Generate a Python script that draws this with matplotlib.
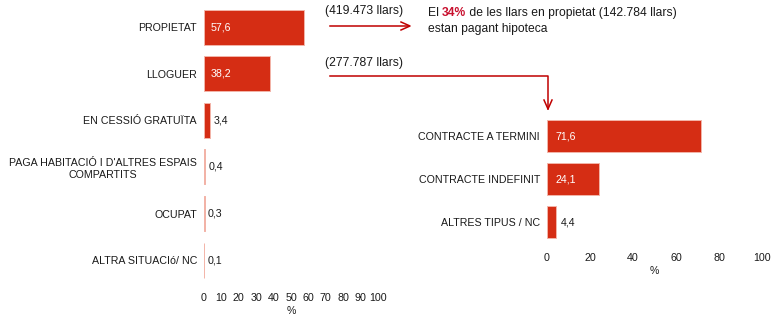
import matplotlib
matplotlib.use("Agg")
import matplotlib.pyplot as plt
from matplotlib.lines import Line2D

plt.rcParams['font.family'] = ['Liberation Sans', 'DejaVu Sans']

# Regim de tinença de l'habitatge
tenure_labels = ["PROPIETAT", "LLOGUER", "EN CESSIÓ GRATUÏTA",
                 "PAGA HABITACIÓ I D'ALTRES ESPAIS\nCOMPARTITS",
                 "OCUPAT", "ALTRA SITUACIó/ NC"]
tenure_values = [57.6, 38.2, 3.4, 0.4, 0.3, 0.1]
tenure_ticks = [0, 10, 20, 30, 40, 50, 60, 70, 80, 90, 100]

# Tipus de contracte de lloguer
contract_labels = ["CONTRACTE A TERMINI", "CONTRACTE INDEFINIT", "ALTRES TIPUS / NC"]
contract_values = [71.6, 24.1, 4.4]
contract_ticks = [0, 20, 40, 60, 80, 100]

owner_households = "(419.473 llars)"
renter_households = "(277.787 llars)"
mortgage_share = "34%"

BAR = '#d52d14'
EDGE = '#f3b4a8'
ARROW = '#c00000'
TXT = '#1a1a1a'
FS = 7.7

W, H = 783, 325
fig = plt.figure(figsize=(W / 100, H / 100), dpi=100)


def fx(px):
    return px / W


def fy(py):
    return 1 - py / H


def bar_panel(rect, labels, values, ticks, height, inside_min):
    ax = fig.add_axes(rect)
    pos = list(range(len(values)))
    ax.barh(pos, values, height=height, color=BAR, edgecolor=EDGE, linewidth=0.7)
    ax.set_ylim(len(values) - 0.5, -0.5)
    ax.set_xlim(0, 100)
    ax.set_yticks(pos)
    ax.set_yticklabels(labels, fontsize=FS, color=TXT)
    for t in ax.get_yticklabels():
        t.set_multialignment('center')
    ax.set_xticks(ticks)
    ax.set_xticklabels([str(t) for t in ticks], fontsize=FS, color=TXT)
    ax.tick_params(length=0, pad=5)
    ax.tick_params(axis='x', pad=7)
    ax.set_xlabel('%', fontsize=FS, color=TXT, labelpad=2)
    for s in ax.spines.values():
        s.set_visible(False)
    for p, v in zip(pos, values):
        txt = f"{v:.1f}".replace('.', ',')
        if v >= inside_min:
            ax.text(4, p, txt, color='white', fontsize=FS, va='center', ha='left')
        else:
            ax.text(v + 2, p, txt, color=TXT, fontsize=FS, va='center', ha='left')
    return ax


ax1 = bar_panel([fx(204), fy(283.5), fx(378) - fx(204), (283.5 - 3.7) / H],
                tenure_labels, tenure_values, tenure_ticks, 0.75, 10)
ax2 = bar_panel([fx(547), fy(243.5), fx(762) - fx(547), 129 / H],
                contract_labels, contract_values, contract_ticks, 0.74, 10)

# households in ownership -> mortgage note
fig.text(fx(325), fy(11), owner_households, fontsize=8.7, color=TXT, va='center')
fig.add_artist(Line2D([fx(330), fx(408)], [fy(26), fy(26)], color=ARROW, lw=1.1,
                      transform=fig.transFigure))
fig.add_artist(Line2D([fx(401), fx(410), fx(401)], [fy(22), fy(26), fy(30)],
                      color=ARROW, lw=1.1, transform=fig.transFigure))

fig.canvas.draw()
r = fig.canvas.get_renderer()
t1 = fig.text(fx(428), fy(13), "El ", fontsize=8.7, color=TXT, va='center')
x = t1.get_window_extent(r).x1
t2 = fig.text(x / W, fy(13), mortgage_share, fontsize=8.7, color='#c8102e',
              fontweight='bold', va='center')
x = t2.get_window_extent(r).x1
fig.text(x / W, fy(13), " de les llars en propietat (142.784 llars)", fontsize=8.7,
         color=TXT, va='center')
fig.text(fx(428), fy(29), "estan pagant hipoteca", fontsize=8.7, color=TXT, va='center')

# households renting -> contract types
fig.text(fx(325), fy(63), renter_households, fontsize=8.7, color=TXT, va='center')
fig.add_artist(Line2D([fx(330), fx(548), fx(548)], [fy(76), fy(76), fy(109)],
                      color=ARROW, lw=1.1, transform=fig.transFigure))
fig.add_artist(Line2D([fx(544), fx(548), fx(552)], [fy(100), fy(109), fy(100)],
                      color=ARROW, lw=1.1, transform=fig.transFigure))

fig.savefig('out.png', dpi=100, facecolor='white')
